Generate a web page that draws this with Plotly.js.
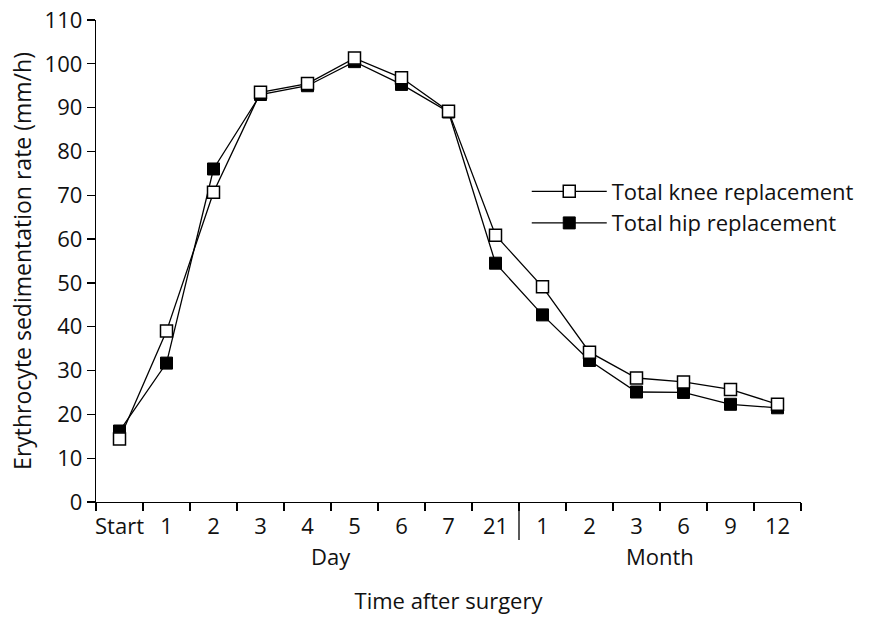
<!DOCTYPE html>
<html><head><meta charset="utf-8">
<script src="https://cdn.plot.ly/plotly-3.0.1.min.js"></script>
<style>body{margin:0;background:#fff}</style></head>
<body><div id="chart" style="width:875px;height:620px"></div>
<script>
const tickLabels = ['Start','1','2','3','4','5','6','7','21','1','2','3','6','9','12'];
const groups = ['','Day','Day','Day','Day','Day','Day','Day','Day','Month','Month','Month','Month','Month','Month'];
const kneeValues = [14.4, 39.0, 70.7, 93.5, 95.5, 101.3, 96.8, 89.2, 60.9, 49.1, 34.2, 28.3, 27.4, 25.7, 22.3];
const hipValues  = [16.2, 31.7, 76.0, 93.0, 95.0, 100.5, 95.3, 89.0, 54.5, 42.7, 32.3, 25.1, 25.0, 22.3, 21.5];
const kneeName = 'Total knee replacement';
const hipName = 'Total hip replacement';

const xIdx = tickLabels.map((_, i) => i);
const boundaries = [];
for (let i = 0; i <= tickLabels.length; i++) boundaries.push(i - 0.5);

const FONT = 'Open Sans, Noto Sans, sans-serif';
const TXT = '#111';

const hip = {
  x: xIdx, y: hipValues, name: hipName, type: 'scatter', mode: 'lines+markers',
  line: {color: '#000', width: 1.3},
  marker: {symbol: 'square', size: 12, color: '#000', line: {color: '#000', width: 1}},
  legendrank: 2
};
const knee = {
  x: xIdx, y: kneeValues, name: kneeName, type: 'scatter', mode: 'lines+markers',
  line: {color: '#000', width: 1.3},
  marker: {symbol: 'square', size: 12, color: '#fff', line: {color: '#000', width: 1.5}},
  legendrank: 1
};

// group labels centred on their categories
const groupNames = [...new Set(groups.filter(g => g))];
const annotations = groupNames.map(g => {
  const idx = xIdx.filter(i => groups[i] === g);
  const c = (Math.min(...idx) + Math.max(...idx)) / 2;
  return {x: c, xref: 'x', y: -0.112, yref: 'paper', text: g, showarrow: false,
          xanchor: 'center', yanchor: 'middle', font: {family: FONT, size: 22, color: TXT}};
});

// separator between day and month groups
const shapes = [];
for (let i = 1; i < groups.length; i++) {
  if (groups[i] !== groups[i-1] && groups[i-1] !== '') {
    shapes.push({type: 'line', xref: 'x', yref: 'paper', x0: i - 0.5, x1: i - 0.5, y0: 0, y1: -0.079,
                 line: {color: '#000', width: 1.3}});
  }
}

const layout = {
  width: 875, height: 620,
  margin: {l: 96, r: 74, t: 20, b: 118},
  paper_bgcolor: '#fff', plot_bgcolor: '#fff',
  font: {family: FONT, size: 22, color: TXT},
  showlegend: true,
  legend: {x: 0.611, y: 0.611, xanchor: 'left', yanchor: 'middle', bgcolor: 'rgba(0,0,0,0)',
           font: {family: FONT, size: 22, color: TXT}, itemwidth: 75, tracegroupgap: 0},
  xaxis: {
    range: [-0.5, tickLabels.length - 0.5], tickmode: 'array', tickvals: xIdx, ticktext: tickLabels,
    ticks: 'outside', ticklen: 4, tickcolor: 'rgba(0,0,0,0)',
    minor: {tickmode: 'array', tickvals: boundaries, ticks: 'outside', ticklen: 8, tickwidth: 1.3, tickcolor: '#000', showgrid: false},
    showline: true, linecolor: '#000', linewidth: 1.3, showgrid: false, zeroline: false,
    tickfont: {family: FONT, size: 22, color: TXT},
    title: {text: 'Time after surgery', standoff: 55, font: {family: FONT, size: 22, color: TXT}},
    automargin: false, fixedrange: true
  },
  yaxis: {
    range: [0, 110], tickmode: 'linear', tick0: 0, dtick: 10,
    ticks: 'outside', ticklen: 8, tickwidth: 1.3, tickcolor: '#000',
    showline: true, linecolor: '#000', linewidth: 1.3, showgrid: false, zeroline: false,
    tickfont: {family: FONT, size: 22, color: TXT},
    title: {text: 'Erythrocyte sedimentation rate (mm/h)', standoff: 6, font: {family: FONT, size: 23, color: TXT}},
    automargin: false, fixedrange: true
  },
  annotations: annotations,
  shapes: shapes
};

Plotly.newPlot('chart', [hip, knee], layout, {displayModeBar: false, staticPlot: true});
</script></body></html>
